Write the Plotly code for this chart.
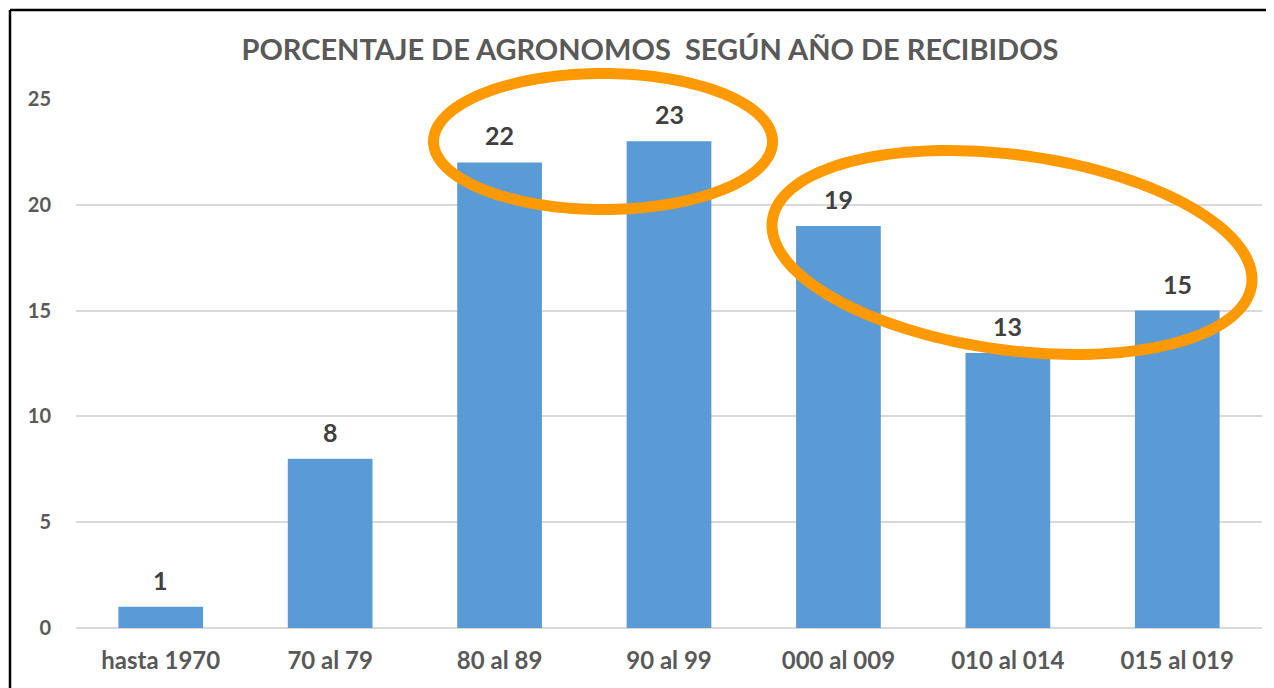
import numpy as np
import plotly.graph_objects as go

categories = ["hasta 1970", "70 al 79", "80 al 89", "90 al 99", "000 al 009", "010 al 014", "015 al 019"]
values = [1, 8, 22, 23, 19, 13, 15]
y_ticks = [0, 5, 10, 15, 20, 25]
title_text = "PORCENTAJE DE AGRONOMOS \u00a0SEGÚN AÑO DE RECIBIDOS"

W, H = 1274, 688
OFF = 8  # page body margin offset
L, R, T, B = 76 - OFF, 1262 - OFF, 99 - OFF, 628 - OFF

FONT = "Lato"
BAR = "#5B9BD5"
GRID = "#D9D9D9"
ORANGE = "#FF9900"


def px2paper(px, py):
    # px, py given in reference-image pixels
    return (px - OFF - L) / (R - L), (B - (py - OFF)) / (B - T)


def ellipse_path(cx, cy, a, b, theta_deg, n=160):
    th = np.radians(theta_deg)
    t = np.linspace(0, 2 * np.pi, n, endpoint=False)
    xs = cx + a * np.cos(t) * np.cos(th) - b * np.sin(t) * np.sin(th)
    ys = cy + a * np.cos(t) * np.sin(th) + b * np.sin(t) * np.cos(th)
    pts = [px2paper(x, y) for x, y in zip(xs, ys)]
    d = "M {:.5f},{:.5f} ".format(*pts[0])
    d += " ".join("L {:.5f},{:.5f}".format(x, y) for x, y in pts[1:])
    return d + " Z"


fig = go.Figure()
fig.add_trace(go.Bar(
    x=categories, y=values, width=0.5,
    marker=dict(color=BAR, line=dict(width=0)),
    hoverinfo="x+y",
))

annotations = []
for c, v in zip(categories, values):
    annotations.append(dict(
        x=c, y=v, xref="x", yref="y", text=str(v), showarrow=False,
        yanchor="bottom", yshift=10,
        font=dict(family=FONT, size=25, color="#404040", weight="bold"),
    ))

shapes = []
# chart frame (left and top edges visible)
x0, y0 = px2paper(10, 10)
x1, _ = px2paper(1300, 10)
_, y1 = px2paper(10, 720)
shapes.append(dict(type="line", xref="paper", yref="paper", x0=x0, y0=y0, x1=x1, y1=y0,
                   line=dict(color="black", width=2.5)))
shapes.append(dict(type="line", xref="paper", yref="paper", x0=x0, y0=y0, x1=x0, y1=y1,
                   line=dict(color="black", width=2.5)))
# highlight ellipses
shapes.append(dict(type="path", xref="paper", yref="paper",
                   path=ellipse_path(603, 141.5, 169.5, 68, 0),
                   line=dict(color=ORANGE, width=11)))
shapes.append(dict(type="path", xref="paper", yref="paper",
                   path=ellipse_path(1012, 252.5, 241.8, 97.6, 7.68),
                   line=dict(color=ORANGE, width=11)))

fig.update_layout(
    width=W, height=H,
    margin=dict(l=L, r=W - R, t=T, b=H - B),
    paper_bgcolor="white", plot_bgcolor="white",
    showlegend=False,
    title=dict(text=title_text, x=(650 - OFF - L) / (R - L), xref="paper", xanchor="center",
               y=1 - (50 - OFF) / H, yref="container", yanchor="middle",
               font=dict(family=FONT, size=29, color="#595959", weight="bold")),
    xaxis=dict(type="category", range=[-0.5, 6.5], showgrid=False, showline=False,
               ticks="", ticklabelstandoff=16,
               tickfont=dict(family=FONT, size=24, color="#595959", weight="bold")),
    yaxis=dict(range=[0, 25], tickvals=y_ticks, showgrid=True, gridcolor=GRID, gridwidth=1.5,
               zeroline=True, zerolinecolor=GRID, zerolinewidth=1.5, showline=False,
               ticks="", ticklabelstandoff=24,
               tickfont=dict(family=FONT, size=20, color="#595959", weight="bold")),
    annotations=annotations,
    shapes=shapes,
)

fig.write_html("out.html")
